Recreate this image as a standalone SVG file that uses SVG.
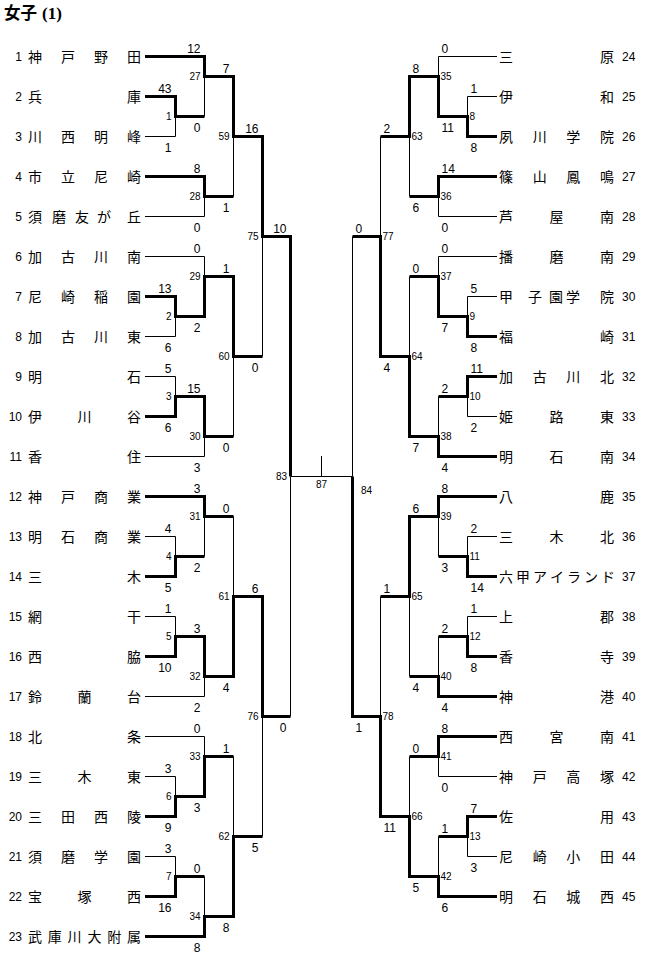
<svg xmlns="http://www.w3.org/2000/svg" width="653" height="957" viewBox="0 0 653 957">
<style>
.thin{fill:none;stroke:#000;stroke-width:1}
.thick{fill:none;stroke:#000;stroke-width:3;stroke-linejoin:miter}
.name{font-family:"Noto Sans CJK JP","Noto Sans CJK SC",sans-serif;font-size:14px;text-anchor:middle;fill:#000}
.num{font-family:"Liberation Sans",Arial,sans-serif;font-size:12px;fill:#000}
.l{text-anchor:end}
.sc{font-family:"Liberation Sans",Arial,sans-serif;font-size:12px;fill:#000}
.mn{font-family:"Liberation Sans",Arial,sans-serif;font-size:10px;fill:#000}
</style>
<rect x="0" y="0" width="653" height="957" fill="#fff"/>
<g id="title"><text x="4" y="19" font-family="'Noto Sans CJK JP',sans-serif" font-size="16.5" font-weight="bold">女子<tspan font-family="'Liberation Serif',serif" font-size="17" dx="5">(1)</tspan></text></g>

<g id="connectors">
<g class="thin">
<path d="M145,136.5H175.5V116.5"/>
<path d="M204.5,116.5V76.5"/>
<path d="M145,216.5H204.5V196.5"/>
<path d="M233.5,196.5V136.5"/>
<path d="M145,336.5H175.5V316.5"/>
<path d="M145,256.5H204.5V276.5"/>
<path d="M145,376.5H175.5V396.5"/>
<path d="M145,456.5H204.5V436.5"/>
<path d="M233.5,436.5V356.5"/>
<path d="M262.5,356.5V236.5"/>
<path d="M145,536.5H175.5V556.5"/>
<path d="M204.5,556.5V516.5"/>
<path d="M145,616.5H175.5V636.5"/>
<path d="M145,696.5H204.5V676.5"/>
<path d="M233.5,516.5V596.5"/>
<path d="M145,776.5H175.5V796.5"/>
<path d="M145,736.5H204.5V756.5"/>
<path d="M145,856.5H175.5V876.5"/>
<path d="M204.5,876.5V916.5"/>
<path d="M233.5,756.5V836.5"/>
<path d="M262.5,836.5V716.5"/>
<path d="M290.5,716.5V476.5"/>
<path d="M497,96.5H467.5V116.5"/>
<path d="M497,56.5H438.5V76.5"/>
<path d="M497,216.5H438.5V196.5"/>
<path d="M409.5,196.5V136.5"/>
<path d="M497,296.5H467.5V316.5"/>
<path d="M497,256.5H438.5V276.5"/>
<path d="M497,416.5H467.5V396.5"/>
<path d="M438.5,396.5V436.5"/>
<path d="M409.5,276.5V356.5"/>
<path d="M380.5,136.5V236.5"/>
<path d="M497,536.5H467.5V556.5"/>
<path d="M438.5,556.5V516.5"/>
<path d="M497,616.5H467.5V636.5"/>
<path d="M438.5,636.5V676.5"/>
<path d="M409.5,676.5V596.5"/>
<path d="M497,776.5H438.5V756.5"/>
<path d="M497,856.5H467.5V836.5"/>
<path d="M438.5,836.5V876.5"/>
<path d="M409.5,756.5V816.5"/>
<path d="M380.5,596.5V716.5"/>
<path d="M352.5,236.5V476.5"/>
<path d="M290.5,476.5H352.5"/>
<path d="M321.5,456V476.5"/>
</g>
<g class="thick">
<path d="M145,96.5H175.5V116.5H204.5"/>
<path d="M145,56.5H204.5V76.5H233.5"/>
<path d="M145,176.5H204.5V196.5H233.5"/>
<path d="M204.5,76.5H233.5V136.5H262.5"/>
<path d="M145,296.5H175.5V316.5H204.5"/>
<path d="M175.5,316.5H204.5V276.5H233.5"/>
<path d="M145,416.5H175.5V396.5H204.5"/>
<path d="M175.5,396.5H204.5V436.5H233.5"/>
<path d="M204.5,276.5H233.5V356.5H262.5"/>
<path d="M233.5,136.5H262.5V236.5H290.5"/>
<path d="M145,576.5H175.5V556.5H204.5"/>
<path d="M145,496.5H204.5V516.5H233.5"/>
<path d="M145,656.5H175.5V636.5H204.5"/>
<path d="M175.5,636.5H204.5V676.5H233.5"/>
<path d="M204.5,676.5H233.5V596.5H262.5"/>
<path d="M145,816.5H175.5V796.5H204.5"/>
<path d="M175.5,796.5H204.5V756.5H233.5"/>
<path d="M145,896.5H175.5V876.5H204.5"/>
<path d="M145,936.5H204.5V916.5H233.5"/>
<path d="M204.5,916.5H233.5V836.5H262.5"/>
<path d="M233.5,596.5H262.5V716.5H290.5"/>
<path d="M262.5,236.5H290.5V476.5"/>
<path d="M497,136.5H467.5V116.5H438.5"/>
<path d="M467.5,116.5H438.5V76.5H409.5"/>
<path d="M497,176.5H438.5V196.5H409.5"/>
<path d="M438.5,76.5H409.5V136.5H380.5"/>
<path d="M497,336.5H467.5V316.5H438.5"/>
<path d="M467.5,316.5H438.5V276.5H409.5"/>
<path d="M497,376.5H467.5V396.5H438.5"/>
<path d="M497,456.5H438.5V436.5H409.5"/>
<path d="M438.5,436.5H409.5V356.5H380.5"/>
<path d="M409.5,356.5H380.5V236.5H352.5"/>
<path d="M497,576.5H467.5V556.5H438.5"/>
<path d="M497,496.5H438.5V516.5H409.5"/>
<path d="M497,656.5H467.5V636.5H438.5"/>
<path d="M497,696.5H438.5V676.5H409.5"/>
<path d="M438.5,516.5H409.5V596.5H380.5"/>
<path d="M497,736.5H438.5V756.5H409.5"/>
<path d="M497,816.5H467.5V836.5H438.5"/>
<path d="M497,896.5H438.5V876.5H409.5"/>
<path d="M438.5,876.5H409.5V816.5H380.5"/>
<path d="M409.5,816.5H380.5V716.5H352.5"/>
<path d="M380.5,716.5H352.5V476.5"/>
</g>
</g>

<g id="teams-left">
<g id="team-1"><text class="num l" x="22" y="61">1</text><text class="name" x="35 68 101 134" y="62">神戸野田</text></g>
<g id="team-2"><text class="num l" x="22" y="101">2</text><text class="name" x="35 134" y="102">兵庫</text></g>
<g id="team-3"><text class="num l" x="22" y="141">3</text><text class="name" x="35 68 101 134" y="142">川西明峰</text></g>
<g id="team-4"><text class="num l" x="22" y="181">4</text><text class="name" x="35 68 101 134" y="182">市立尼崎</text></g>
<g id="team-5"><text class="num l" x="22" y="221">5</text><text class="name" x="35 59 82 104 134" y="222">須磨友が丘</text></g>
<g id="team-6"><text class="num l" x="22" y="261">6</text><text class="name" x="35 68 101 134" y="262">加古川南</text></g>
<g id="team-7"><text class="num l" x="22" y="301">7</text><text class="name" x="35 68 101 134" y="302">尼崎稲園</text></g>
<g id="team-8"><text class="num l" x="22" y="341">8</text><text class="name" x="35 68 101 134" y="342">加古川東</text></g>
<g id="team-9"><text class="num l" x="22" y="381">9</text><text class="name" x="35 134" y="382">明石</text></g>
<g id="team-10"><text class="num l" x="22" y="421">10</text><text class="name" x="35 84.5 134" y="422">伊川谷</text></g>
<g id="team-11"><text class="num l" x="22" y="461">11</text><text class="name" x="35 134" y="462">香住</text></g>
<g id="team-12"><text class="num l" x="22" y="501">12</text><text class="name" x="35 68 101 134" y="502">神戸商業</text></g>
<g id="team-13"><text class="num l" x="22" y="541">13</text><text class="name" x="35 68 101 134" y="542">明石商業</text></g>
<g id="team-14"><text class="num l" x="22" y="581">14</text><text class="name" x="35 134" y="582">三木</text></g>
<g id="team-15"><text class="num l" x="22" y="621">15</text><text class="name" x="35 134" y="622">網干</text></g>
<g id="team-16"><text class="num l" x="22" y="661">16</text><text class="name" x="35 134" y="662">西脇</text></g>
<g id="team-17"><text class="num l" x="22" y="701">17</text><text class="name" x="35 84.5 134" y="702">鈴蘭台</text></g>
<g id="team-18"><text class="num l" x="22" y="741">18</text><text class="name" x="35 134" y="742">北条</text></g>
<g id="team-19"><text class="num l" x="22" y="781">19</text><text class="name" x="35 84.5 134" y="782">三木東</text></g>
<g id="team-20"><text class="num l" x="22" y="821">20</text><text class="name" x="35 68 101 134" y="822">三田西陵</text></g>
<g id="team-21"><text class="num l" x="22" y="861">21</text><text class="name" x="35 68 101 134" y="862">須磨学園</text></g>
<g id="team-22"><text class="num l" x="22" y="901">22</text><text class="name" x="35 84.5 134" y="902">宝塚西</text></g>
<g id="team-23"><text class="num l" x="22" y="941">23</text><text class="name" x="35 54.8 74.6 94.4 114.2 134" y="942">武庫川大附属</text></g>
</g>

<g id="teams-right">
<g id="team-24"><text class="name" x="506 607" y="62">三原</text><text class="num" x="622" y="61">24</text></g>
<g id="team-25"><text class="name" x="506 607" y="102">伊和</text><text class="num" x="622" y="101">25</text></g>
<g id="team-26"><text class="name" x="506 539.7 573.3 607" y="142">夙川学院</text><text class="num" x="622" y="141">26</text></g>
<g id="team-27"><text class="name" x="506 539.7 573.3 607" y="182">篠山鳳鳴</text><text class="num" x="622" y="181">27</text></g>
<g id="team-28"><text class="name" x="506 556.5 607" y="222">芦屋南</text><text class="num" x="622" y="221">28</text></g>
<g id="team-29"><text class="name" x="506 556.5 607" y="262">播磨南</text><text class="num" x="622" y="261">29</text></g>
<g id="team-30"><text class="name" x="506 535 556 573 607" y="302">甲子園学院</text><text class="num" x="622" y="301">30</text></g>
<g id="team-31"><text class="name" x="506 607" y="342">福崎</text><text class="num" x="622" y="341">31</text></g>
<g id="team-32"><text class="name" x="506 539.7 573.3 607" y="382">加古川北</text><text class="num" x="622" y="381">32</text></g>
<g id="team-33"><text class="name" x="506 556.5 607" y="422">姫路東</text><text class="num" x="622" y="421">33</text></g>
<g id="team-34"><text class="name" x="506 556.5 607" y="462">明石南</text><text class="num" x="622" y="461">34</text></g>
<g id="team-35"><text class="name" x="506 607" y="502">八鹿</text><text class="num" x="622" y="501">35</text></g>
<g id="team-36"><text class="name" x="506 556.5 607" y="542">三木北</text><text class="num" x="622" y="541">36</text></g>
<g id="team-37"><text class="name" x="506 523 540 557 574 591 608" y="582">六甲アイランド</text><text class="num" x="622" y="581">37</text></g>
<g id="team-38"><text class="name" x="506 607" y="622">上郡</text><text class="num" x="622" y="621">38</text></g>
<g id="team-39"><text class="name" x="506 607" y="662">香寺</text><text class="num" x="622" y="661">39</text></g>
<g id="team-40"><text class="name" x="506 607" y="702">神港</text><text class="num" x="622" y="701">40</text></g>
<g id="team-41"><text class="name" x="506 556.5 607" y="742">西宮南</text><text class="num" x="622" y="741">41</text></g>
<g id="team-42"><text class="name" x="506 539.7 573.3 607" y="782">神戸高塚</text><text class="num" x="622" y="781">42</text></g>
<g id="team-43"><text class="name" x="506 607" y="822">佐用</text><text class="num" x="622" y="821">43</text></g>
<g id="team-44"><text class="name" x="506 539.7 573.3 607" y="862">尼崎小田</text><text class="num" x="622" y="861">44</text></g>
<g id="team-45"><text class="name" x="506 539.7 573.3 607" y="902">明石城西</text><text class="num" x="622" y="901">45</text></g>
</g>

<g id="matches-left">
<g id="m1"><text class="sc l" x="171.5" y="93">43</text><text class="sc l" x="171.5" y="151.5">1</text><text class="mn l" x="171.5" y="120">1</text></g>
<g id="m27"><text class="sc l" x="200.5" y="53">12</text><text class="sc l" x="200.5" y="131.5">0</text><text class="mn l" x="200.5" y="80">27</text></g>
<g id="m28"><text class="sc l" x="200.5" y="173">8</text><text class="sc l" x="200.5" y="231.5">0</text><text class="mn l" x="200.5" y="200">28</text></g>
<g id="m59"><text class="sc l" x="229.5" y="73">7</text><text class="sc l" x="229.5" y="211.5">1</text><text class="mn l" x="229.5" y="140">59</text></g>
<g id="m2"><text class="sc l" x="171.5" y="293">13</text><text class="sc l" x="171.5" y="351.5">6</text><text class="mn l" x="171.5" y="320">2</text></g>
<g id="m29"><text class="sc l" x="200.5" y="253">0</text><text class="sc l" x="200.5" y="331.5">2</text><text class="mn l" x="200.5" y="280">29</text></g>
<g id="m3"><text class="sc l" x="171.5" y="373">5</text><text class="sc l" x="171.5" y="431.5">6</text><text class="mn l" x="171.5" y="400">3</text></g>
<g id="m30"><text class="sc l" x="200.5" y="393">15</text><text class="sc l" x="200.5" y="471.5">3</text><text class="mn l" x="200.5" y="440">30</text></g>
<g id="m60"><text class="sc l" x="229.5" y="273">1</text><text class="sc l" x="229.5" y="451.5">0</text><text class="mn l" x="229.5" y="360">60</text></g>
<g id="m75"><text class="sc l" x="258.5" y="133">16</text><text class="sc l" x="258.5" y="371.5">0</text><text class="mn l" x="258.5" y="240">75</text></g>
<g id="m4"><text class="sc l" x="171.5" y="533">4</text><text class="sc l" x="171.5" y="591.5">5</text><text class="mn l" x="171.5" y="560">4</text></g>
<g id="m31"><text class="sc l" x="200.5" y="493">3</text><text class="sc l" x="200.5" y="571.5">2</text><text class="mn l" x="200.5" y="520">31</text></g>
<g id="m5"><text class="sc l" x="171.5" y="613">1</text><text class="sc l" x="171.5" y="671.5">10</text><text class="mn l" x="171.5" y="640">5</text></g>
<g id="m32"><text class="sc l" x="200.5" y="633">3</text><text class="sc l" x="200.5" y="711.5">2</text><text class="mn l" x="200.5" y="680">32</text></g>
<g id="m61"><text class="sc l" x="229.5" y="513">0</text><text class="sc l" x="229.5" y="691.5">4</text><text class="mn l" x="229.5" y="600">61</text></g>
<g id="m6"><text class="sc l" x="171.5" y="773">3</text><text class="sc l" x="171.5" y="831.5">9</text><text class="mn l" x="171.5" y="800">6</text></g>
<g id="m33"><text class="sc l" x="200.5" y="733">0</text><text class="sc l" x="200.5" y="811.5">3</text><text class="mn l" x="200.5" y="760">33</text></g>
<g id="m7"><text class="sc l" x="171.5" y="853">3</text><text class="sc l" x="171.5" y="911.5">16</text><text class="mn l" x="171.5" y="880">7</text></g>
<g id="m34"><text class="sc l" x="200.5" y="873">0</text><text class="sc l" x="200.5" y="951.5">8</text><text class="mn l" x="200.5" y="920">34</text></g>
<g id="m62"><text class="sc l" x="229.5" y="753">1</text><text class="sc l" x="229.5" y="931.5">8</text><text class="mn l" x="229.5" y="840">62</text></g>
<g id="m76"><text class="sc l" x="258.5" y="593">6</text><text class="sc l" x="258.5" y="851.5">5</text><text class="mn l" x="258.5" y="720">76</text></g>
<g id="m83"><text class="sc l" x="286.5" y="233">10</text><text class="sc l" x="286.5" y="731.5">0</text><text class="mn l" x="287" y="480">83</text></g>
</g>

<g id="matches-right">
<g id="m8"><text class="sc" x="470.5" y="93">1</text><text class="sc" x="470.5" y="151.5">8</text><text class="mn" x="469.5" y="120">8</text></g>
<g id="m35"><text class="sc" x="441.5" y="53">0</text><text class="sc" x="441.5" y="131.5">11</text><text class="mn" x="440.5" y="80">35</text></g>
<g id="m36"><text class="sc" x="441.5" y="173">14</text><text class="sc" x="441.5" y="231.5">0</text><text class="mn" x="440.5" y="200">36</text></g>
<g id="m63"><text class="sc" x="412.5" y="73">8</text><text class="sc" x="412.5" y="211.5">6</text><text class="mn" x="411.5" y="140">63</text></g>
<g id="m9"><text class="sc" x="470.5" y="293">5</text><text class="sc" x="470.5" y="351.5">8</text><text class="mn" x="469.5" y="320">9</text></g>
<g id="m37"><text class="sc" x="441.5" y="253">0</text><text class="sc" x="441.5" y="331.5">7</text><text class="mn" x="440.5" y="280">37</text></g>
<g id="m10"><text class="sc" x="470.5" y="373">11</text><text class="sc" x="470.5" y="431.5">2</text><text class="mn" x="469.5" y="400">10</text></g>
<g id="m38"><text class="sc" x="441.5" y="393">2</text><text class="sc" x="441.5" y="471.5">4</text><text class="mn" x="440.5" y="440">38</text></g>
<g id="m64"><text class="sc" x="412.5" y="273">0</text><text class="sc" x="412.5" y="451.5">7</text><text class="mn" x="411.5" y="360">64</text></g>
<g id="m77"><text class="sc" x="383.5" y="133">2</text><text class="sc" x="383.5" y="371.5">4</text><text class="mn" x="382.5" y="240">77</text></g>
<g id="m11"><text class="sc" x="470.5" y="533">2</text><text class="sc" x="470.5" y="591.5">14</text><text class="mn" x="469.5" y="560">11</text></g>
<g id="m39"><text class="sc" x="441.5" y="493">8</text><text class="sc" x="441.5" y="571.5">3</text><text class="mn" x="440.5" y="520">39</text></g>
<g id="m12"><text class="sc" x="470.5" y="613">1</text><text class="sc" x="470.5" y="671.5">8</text><text class="mn" x="469.5" y="640">12</text></g>
<g id="m40"><text class="sc" x="441.5" y="633">2</text><text class="sc" x="441.5" y="711.5">4</text><text class="mn" x="440.5" y="680">40</text></g>
<g id="m65"><text class="sc" x="412.5" y="513">6</text><text class="sc" x="412.5" y="691.5">4</text><text class="mn" x="411.5" y="600">65</text></g>
<g id="m41"><text class="sc" x="441.5" y="733">8</text><text class="sc" x="441.5" y="791.5">0</text><text class="mn" x="440.5" y="760">41</text></g>
<g id="m13"><text class="sc" x="470.5" y="813">7</text><text class="sc" x="470.5" y="871.5">3</text><text class="mn" x="469.5" y="840">13</text></g>
<g id="m42"><text class="sc" x="441.5" y="833">1</text><text class="sc" x="441.5" y="911.5">6</text><text class="mn" x="440.5" y="880">42</text></g>
<g id="m66"><text class="sc" x="412.5" y="753">0</text><text class="sc" x="412.5" y="891.5">5</text><text class="mn" x="411.5" y="820">66</text></g>
<g id="m78"><text class="sc" x="383.5" y="593">1</text><text class="sc" x="383.5" y="831.5">11</text><text class="mn" x="382.5" y="720">78</text></g>
<g id="m84"><text class="sc" x="355.5" y="233">0</text><text class="sc" x="355.5" y="731.5">1</text><text class="mn" x="361" y="493.5">84</text></g>
</g>

<g id="final"><text class="mn" x="321.5" y="488" text-anchor="middle">87</text></g>
</svg>
